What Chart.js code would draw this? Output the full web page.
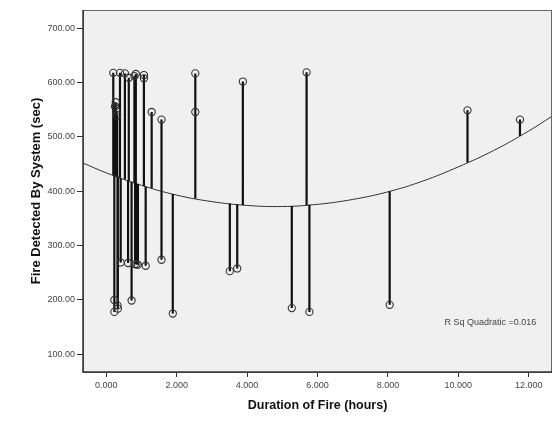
<!DOCTYPE html>
<html lang="en">
<head>
<meta charset="UTF-8">
<script src="https://cdn.jsdelivr.net/npm/chart.js"></script>
<title>Fire detection</title>
<style>
  body { margin: 0; background: #fff; }
  #wrap { width: 558px; height: 428px; }
</style>
</head>
<body>
<div id="wrap"><canvas id="fireChart"></canvas></div>
<script>
// observed cases
var durationHours = [0.20, 0.39, 0.53, 0.64, 0.80, 0.84, 1.07, 1.07, 0.27, 0.25, 0.29, 0.31, 1.29, 1.57, 2.53, 2.53, 3.88, 5.69, 10.26, 11.75,
                     0.41, 0.62, 0.82, 0.86, 0.90, 1.12, 0.72, 0.23, 0.32, 0.33, 0.23, 1.57, 1.89, 3.51, 3.72, 5.27, 5.77, 8.05];
var detectedSec   = [618, 618, 617, 609, 612, 616, 614, 608, 564, 556, 548, 540, 546, 532, 617, 546, 602, 619, 549, 532,
                     269, 268, 266, 265, 265, 263, 199, 200, 190, 184, 178, 274, 175, 253, 258, 185, 178, 191];

// quadratic fit line
var fitX = [-0.66, 0, 1, 2, 3, 4, 5, 6, 7, 8, 9, 10, 11, 12, 12.66];
var fitY = [452, 434, 411, 393, 381, 374, 372, 376, 385, 399, 419, 445, 475, 511, 538];

var xTicks = [0, 2, 4, 6, 8, 10, 12];
var yTicks = [100, 200, 300, 400, 500, 600, 700];
var rSqLabel = 'R Sq Quadratic =0.016';

function fitAt(x) {
    for (var i = 0; i < fitX.length - 1; i++) {
        if (x >= fitX[i] && x <= fitX[i + 1]) {
            var t = (x - fitX[i]) / (fitX[i + 1] - fitX[i]);
            return fitY[i] + t * (fitY[i + 1] - fitY[i]);
        }
    }
    return fitY[fitY.length - 1];
}

var points = [];
var stems = [];
for (var j = 0; j < durationHours.length; j++) {
    points.push({x: durationHours[j], y: detectedSec[j]});
    stems.push({x: durationHours[j], y: detectedSec[j]});
    stems.push({x: durationHours[j], y: fitAt(durationHours[j])});
    stems.push({x: durationHours[j], y: null});
}
var curve = [];
for (var k = 0; k < fitX.length; k++) curve.push({x: fitX[k], y: fitY[k]});

var plotFrame = {
    id: 'plotFrame',
    beforeDatasetsDraw: function(chart) {
        var a = chart.chartArea, c = chart.ctx;
        c.save();
        c.fillStyle = '#f0f0f0';
        c.fillRect(a.left, a.top, a.right - a.left, a.bottom - a.top);
        c.restore();
    },
    afterDraw: function(chart) {
        var a = chart.chartArea, c = chart.ctx;
        c.save();
        c.strokeStyle = '#666';
        c.lineWidth = 1;
        c.strokeRect(a.left + 0.5, a.top + 0.5, a.right - a.left - 1, a.bottom - a.top);
        c.strokeStyle = '#333';
        c.lineWidth = 1.5;
        c.beginPath();
        c.moveTo(a.left, a.top);
        c.lineTo(a.left, a.bottom);
        c.lineTo(a.right, a.bottom);
        c.stroke();
        c.fillStyle = '#444';
        c.font = '9px "Liberation Sans", Arial, sans-serif';
        c.textAlign = 'center';
        c.textBaseline = 'middle';
        var sx = chart.scales.x, sy = chart.scales.y;
        c.fillText(rSqLabel, sx.getPixelForValue(10.91), sy.getPixelForValue(159));
        c.restore();
    }
};

var tickFont = {family: '"Liberation Sans", Arial, sans-serif', size: 9};
var titleFont = {family: '"Liberation Sans", Arial, sans-serif', size: 12.5, weight: 'bold'};

new Chart(document.getElementById('fireChart').getContext('2d'), {
    type: 'scatter',
    data: {
        datasets: [{
            label: 'observed',
            data: points,
            order: 0,
            pointStyle: 'circle',
            pointRadius: 3.6,
            borderColor: '#333',
            borderWidth: 1.1,
            backgroundColor: 'rgba(0,0,0,0)'
        }, {
            label: 'residual',
            type: 'line',
            data: stems,
            order: 1,
            spanGaps: false,
            pointRadius: 0,
            borderColor: '#111',
            borderWidth: 2.2
        }, {
            label: 'quadratic',
            type: 'line',
            data: curve,
            order: 2,
            pointRadius: 0,
            tension: 0.4,
            borderColor: '#333',
            borderWidth: 1
        }]
    },
    options: {
        responsive: true,
        maintainAspectRatio: false,
        animation: false,
        layout: {padding: {top: 10, right: 6, left: 0, bottom: 0}},
        plugins: {legend: {display: false}, tooltip: {enabled: false}},
        scales: {
            x: {
                type: 'linear',
                min: -0.66,
                max: 12.66,
                afterBuildTicks: function(axis) { axis.ticks = xTicks.map(function(v) { return {value: v}; }); },
                afterFit: function(axis) { axis.height = 56; },
                ticks: {
                    color: '#444', font: tickFont, padding: 3, maxRotation: 0,
                    callback: function(v) { return Number(v).toFixed(3); }
                },
                grid: {drawOnChartArea: false, drawTicks: true, tickLength: 5, color: '#333'},
                border: {display: false},
                title: {display: true, text: 'Duration of Fire (hours)', color: '#111', font: titleFont, padding: {bottom: 15}}
            },
            y: {
                type: 'linear',
                min: 67.4,
                max: 733.7,
                afterBuildTicks: function(axis) { axis.ticks = yTicks.map(function(v) { return {value: v}; }); },
                afterFit: function(axis) { axis.width = 83; },
                ticks: {
                    color: '#444', font: tickFont, padding: 2,
                    callback: function(v) { return Number(v).toFixed(2); }
                },
                grid: {drawOnChartArea: false, drawTicks: true, tickLength: 6, color: '#333'},
                border: {display: false},
                title: {display: true, text: 'Fire Detected By System (sec)', color: '#111',
                        font: {family: titleFont.family, size: 13, weight: 'bold'}, padding: {top: 29}}
            }
        }
    },
    plugins: [plotFrame]
});
</script>
</body>
</html>
